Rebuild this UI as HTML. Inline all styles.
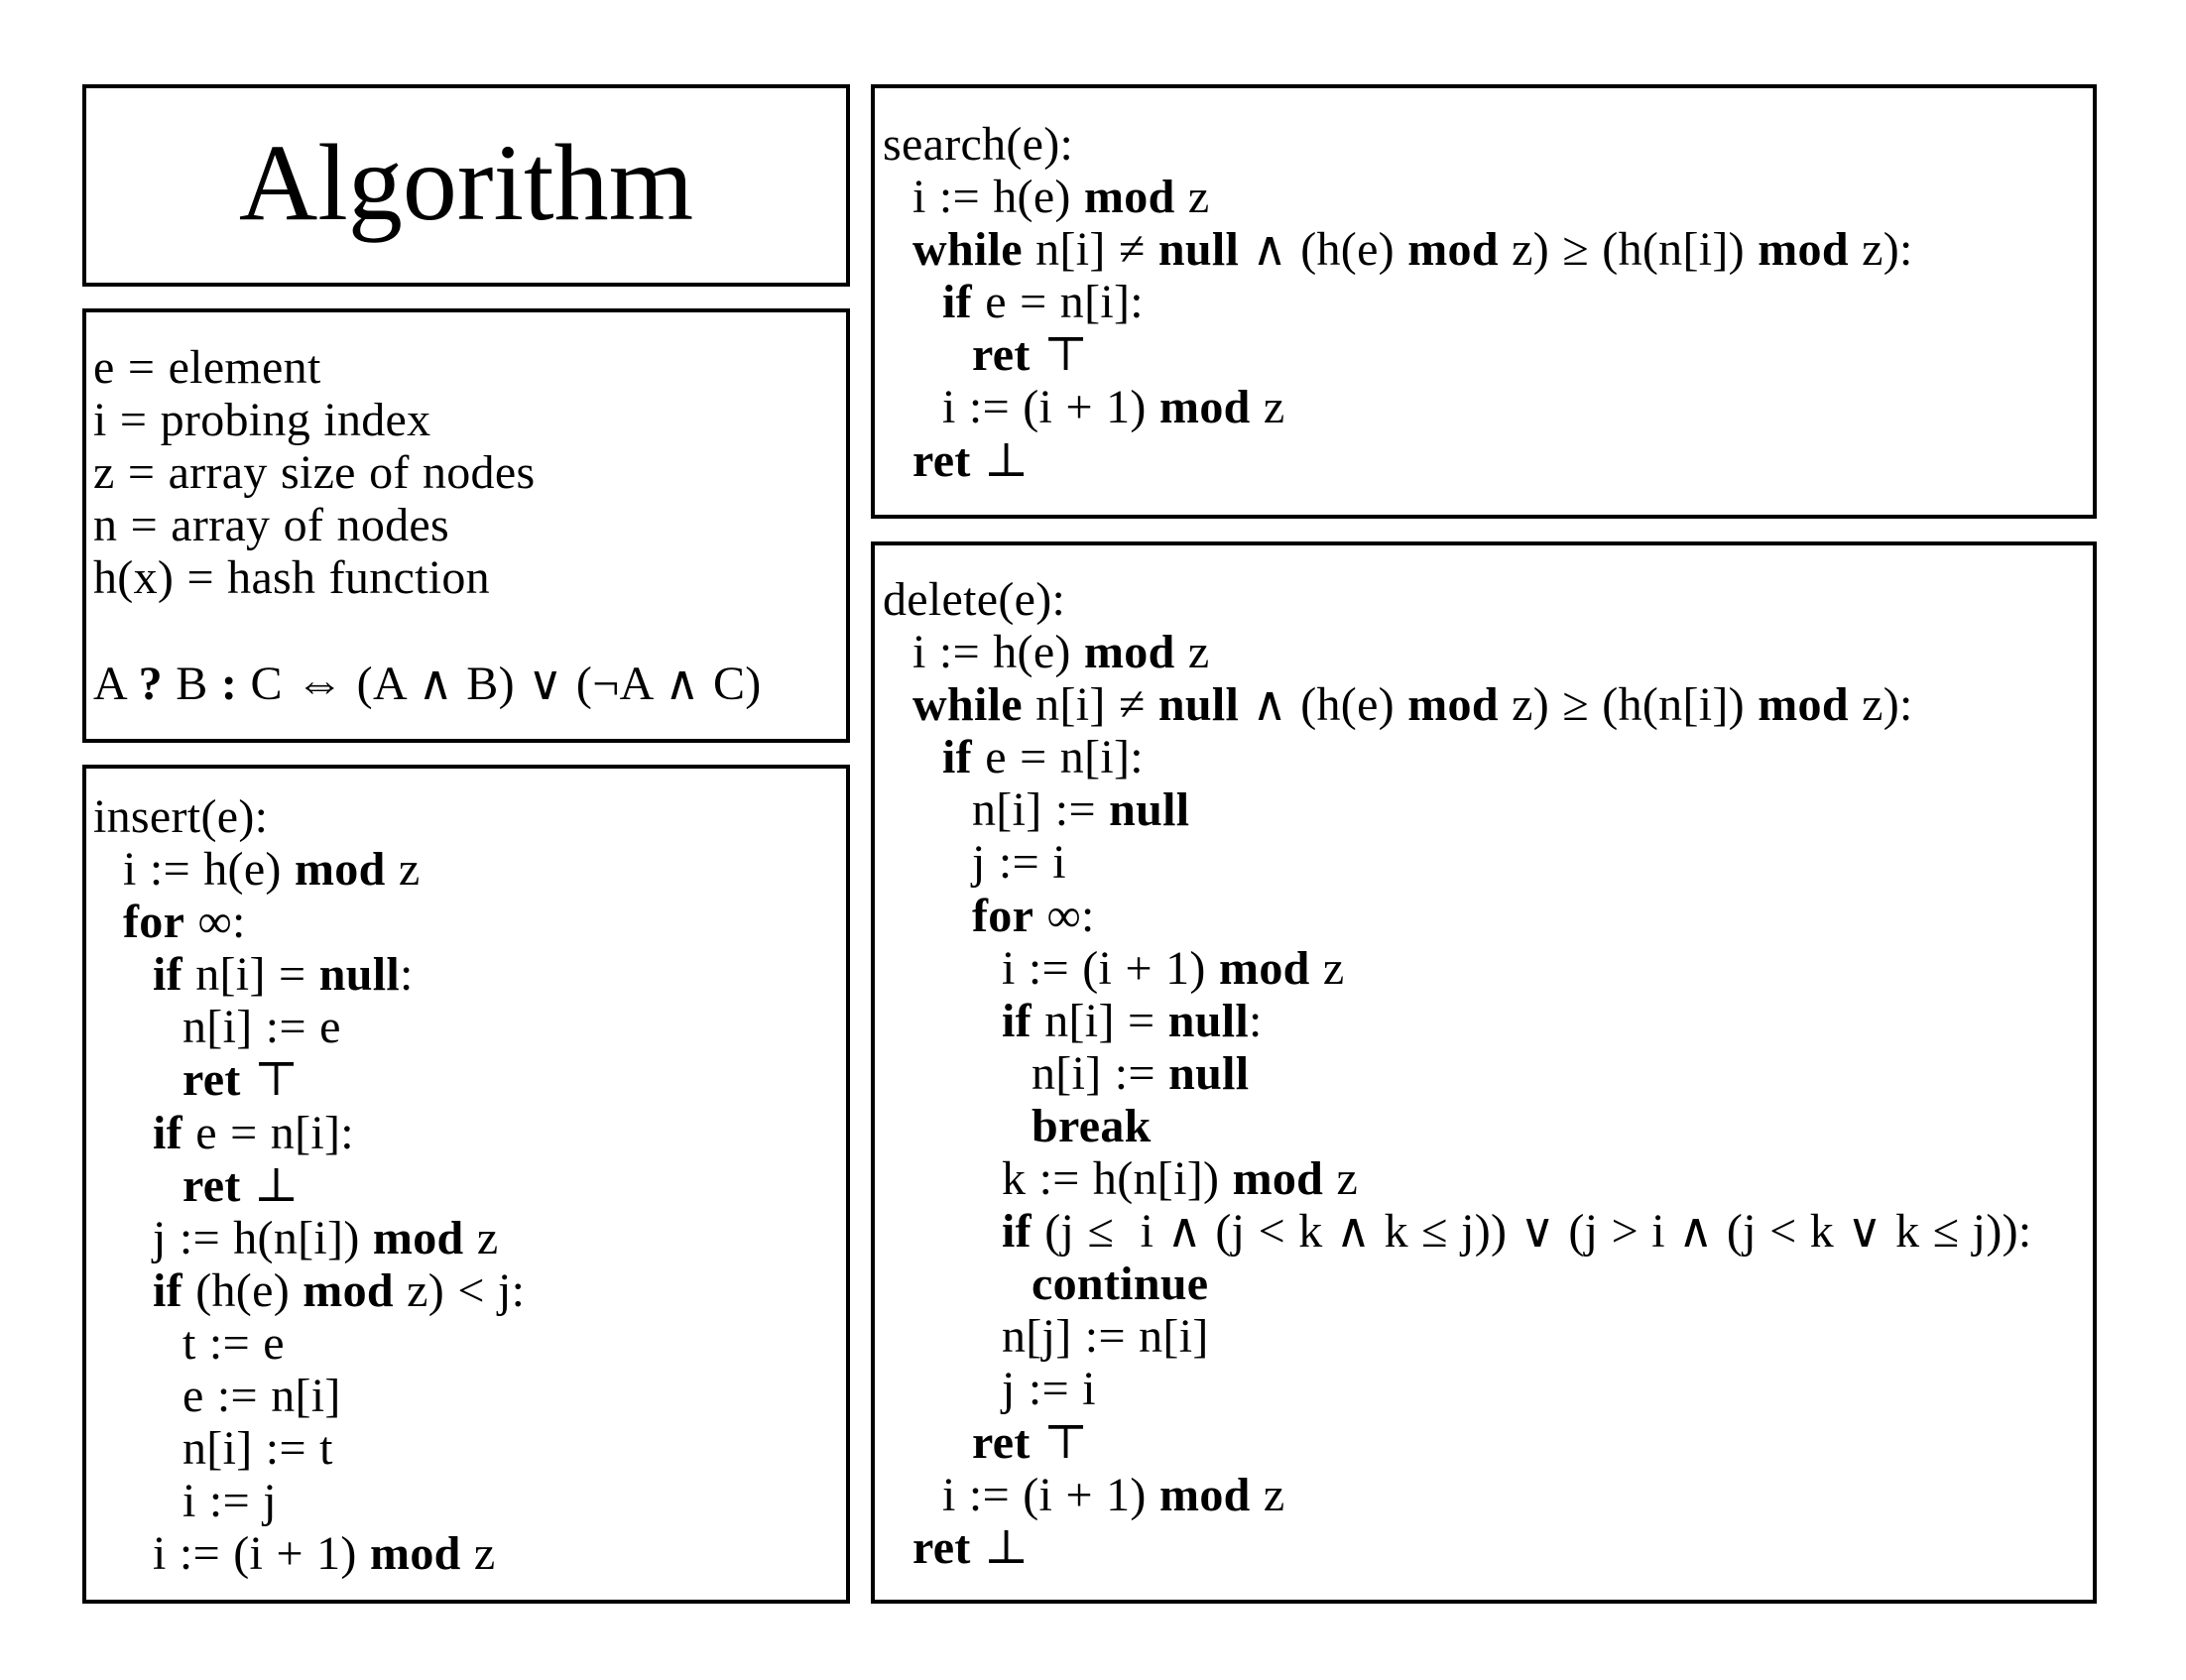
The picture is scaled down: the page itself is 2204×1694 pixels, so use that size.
<!DOCTYPE html>
<html><head><meta charset="utf-8"><style>
body{margin:0;width:2204px;height:1694px;background:#fff;position:relative;overflow:hidden;font-family:"Liberation Serif","DejaVu Serif",serif;color:#000}
.box{position:absolute;border:4px solid #000;box-sizing:border-box}
.code{position:absolute;font-size:48px;line-height:53.1px;letter-spacing:0.3px;word-spacing:1px}
.code div{height:53.1px;white-space:pre}
b{font-weight:bold}
.l1{padding-left:30px}.l2{padding-left:60px}.l3{padding-left:90px}.l4{padding-left:120px}.l5{padding-left:150px}
</style></head><body>
<div class="box" style="left:83px;top:85px;width:774px;height:204px"></div>
<div style="position:absolute;left:83px;top:82px;width:774px;height:204px;text-align:center;font-size:110px;line-height:204px">Algorithm</div>
<div class="box" style="left:83px;top:311px;width:774px;height:438px"></div>
<div class="box" style="left:83px;top:771px;width:774px;height:846px"></div>
<div class="box" style="left:878px;top:85px;width:1236px;height:438px"></div>
<div class="box" style="left:878px;top:546px;width:1236px;height:1071px"></div>

<div class="code" style="left:94px;top:344px"><div>e = element</div><div>i = probing index</div><div>z = array size of nodes</div><div>n = array of nodes</div><div>h(x) = hash function</div><div></div><div>A <b>?</b> B <b>:</b> C ⇔ (A ∧ B) ∨ (¬A ∧ C)</div></div>

<div class="code" style="left:94px;top:797px"><div>insert(e):</div><div class="l1">i := h(e) <b>mod</b> z</div><div class="l1"><b>for</b> ∞:</div><div class="l2"><b>if</b> n[i] = <b>null</b>:</div><div class="l3">n[i] := e</div><div class="l3"><b>ret</b> ⊤</div><div class="l2"><b>if</b> e = n[i]:</div><div class="l3"><b>ret</b> ⊥</div><div class="l2">j := h(n[i]) <b>mod</b> z</div><div class="l2"><b>if</b> (h(e) <b>mod</b> z) &lt; j:</div><div class="l3">t := e</div><div class="l3">e := n[i]</div><div class="l3">n[i] := t</div><div class="l3">i := j</div><div class="l2">i := (i + 1) <b>mod</b> z</div></div>

<div class="code" style="left:890px;top:119px"><div>search(e):</div><div class="l1">i := h(e) <b>mod</b> z</div><div class="l1"><b>while</b> n[i] ≠ <b>null</b> ∧ (h(e) <b>mod</b> z) ≥ (h(n[i]) <b>mod</b> z):</div><div class="l2"><b>if</b> e = n[i]:</div><div class="l3"><b>ret</b> ⊤</div><div class="l2">i := (i + 1) <b>mod</b> z</div><div class="l1"><b>ret</b> ⊥</div></div>

<div class="code" style="left:890px;top:578px"><div>delete(e):</div><div class="l1">i := h(e) <b>mod</b> z</div><div class="l1"><b>while</b> n[i] ≠ <b>null</b> ∧ (h(e) <b>mod</b> z) ≥ (h(n[i]) <b>mod</b> z):</div><div class="l2"><b>if</b> e = n[i]:</div><div class="l3">n[i] := <b>null</b></div><div class="l3">j := i</div><div class="l3"><b>for</b> ∞:</div><div class="l4">i := (i + 1) <b>mod</b> z</div><div class="l4"><b>if</b> n[i] = <b>null</b>:</div><div class="l5">n[i] := <b>null</b></div><div class="l5"><b>break</b></div><div class="l4">k := h(n[i]) <b>mod</b> z</div><div class="l4"><b>if</b> (j ≤  i ∧ (j &lt; k ∧ k ≤ j)) ∨ (j &gt; i ∧ (j &lt; k ∨ k ≤ j)):</div><div class="l5"><b>continue</b></div><div class="l4">n[j] := n[i]</div><div class="l4">j := i</div><div class="l3"><b>ret</b> ⊤</div><div class="l2">i := (i + 1) <b>mod</b> z</div><div class="l1"><b>ret</b> ⊥</div></div>
</body></html>
